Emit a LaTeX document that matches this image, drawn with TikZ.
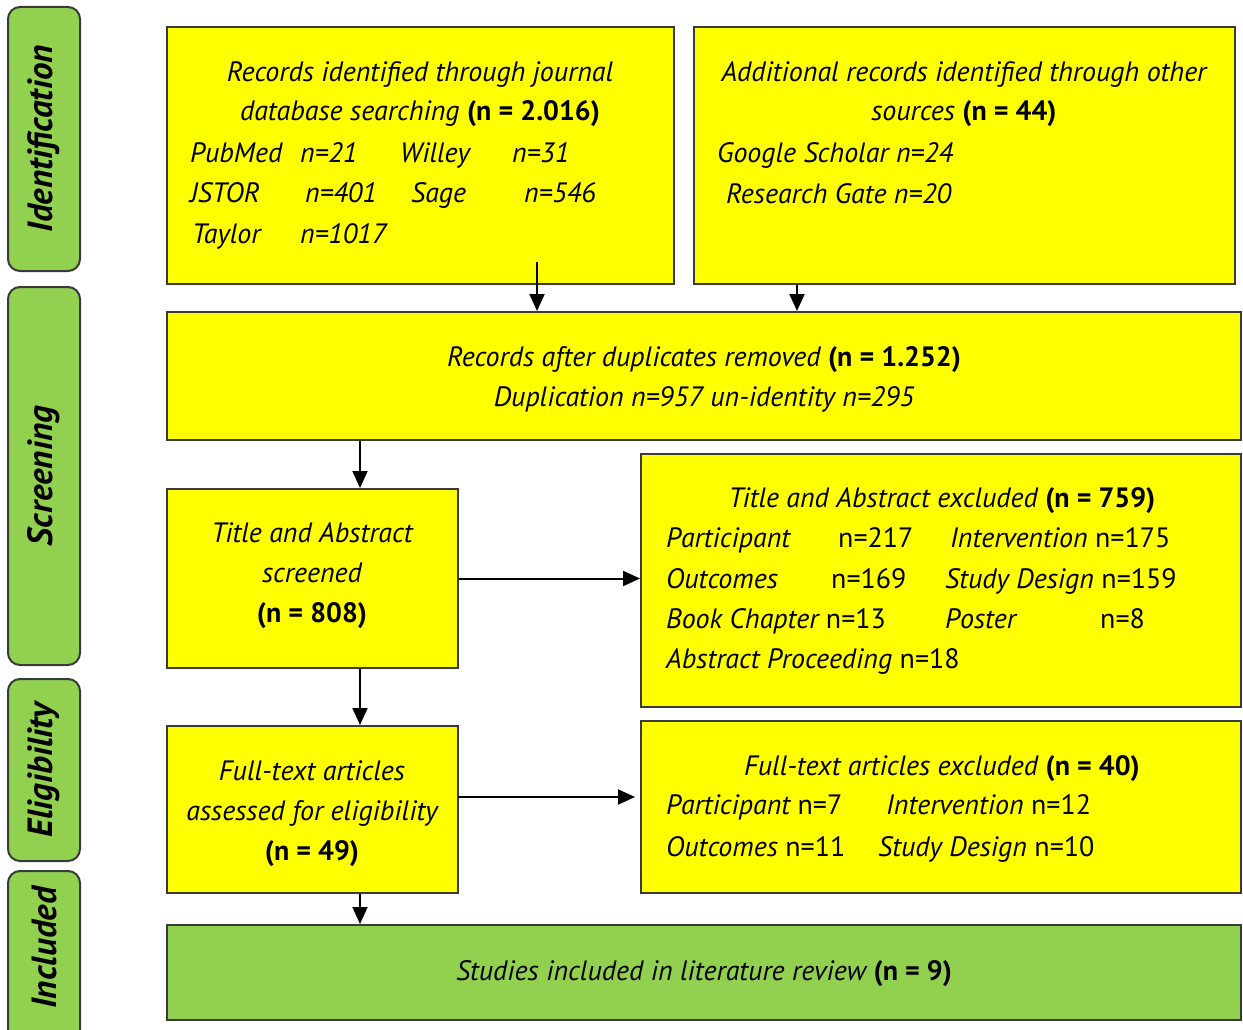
\documentclass[tikz,border=0pt]{standalone}
\usepackage{fontspec}
\setmainfont{PT Sans}
\usetikzlibrary{arrows.meta}
\definecolor{boxyellow}{HTML}{FFFF00}
\definecolor{boxgreen}{HTML}{92D050}
\definecolor{edgegray}{HTML}{3A3A3A}
\tikzset{
  flowbox/.style={draw=edgegray, line width=2pt, fill=boxyellow, inner sep=0pt},
  greenbox/.style={draw=edgegray, line width=2pt, fill=boxgreen, inner sep=0pt},
  sidebar/.style={draw=edgegray, line width=2pt, fill=boxgreen, rounded corners=12pt, inner sep=0pt, minimum width=72pt},
  sidelabel/.style={rotate=90, font=\fontsize{35}{38}\selectfont\bfseries\itshape, inner sep=0pt},
  txt/.style={font=\fontsize{28}{30}\selectfont\itshape, inner sep=0pt},
  lt/.style={txt, anchor=mid west},
  ct/.style={txt, anchor=mid},
  arr/.style={line width=2pt, -{Triangle[length=17pt,width=15pt]}}
}
\newcommand{\bn}[1]{\textbf{\upshape #1}}
\begin{document}
\begin{tikzpicture}[x=1pt,y=-1pt]
\useasboundingbox (0,0) rectangle (1243,1030);
\clip (0,0) rectangle (1243,1030);
\fill[white] (0,0) rectangle (1243,1030);

% side bars
\node[sidebar, minimum height=264pt] (s1) at (44,139) {};
\node[sidebar, minimum height=378pt] (s2) at (44,476) {};
\node[sidebar, minimum height=182pt] (s3) at (44,770) {};
\node[sidebar, minimum height=180pt] (s4) at (44,961) {};
\node[sidelabel] (l1) at (s1.center) {Identification};
\node[sidelabel] (l2) at (s2.center) {Screening};
\node[sidelabel] (l3) at (s3.center) {Eligibility};
\node[sidelabel] (l4) at (44,948) {Included};

% boxes
\node[flowbox, minimum width=507pt, minimum height=257pt] (b1) at (420.5,155.5) {};
\node[flowbox, minimum width=541pt, minimum height=257pt] (b2) at (964.5,155.5) {};
\node[flowbox, minimum width=1074pt, minimum height=128pt] (b3) at (704,376) {};
\node[flowbox, minimum width=291pt, minimum height=179pt] (b4) at (312.5,578.5) {};
\node[flowbox, minimum width=600pt, minimum height=253pt] (b5) at (941,580.5) {};
\node[flowbox, minimum width=291pt, minimum height=167pt] (b6) at (312.5,809.5) {};
\node[flowbox, minimum width=600pt, minimum height=172pt] (b7) at (941,807) {};
\node[greenbox, minimum width=1074pt, minimum height=95pt] (b8) at (704,972.5) {};

% box 1 text
\node[ct] (t11) at (420,79) {Records identified through journal};
\node[ct] (t12) at (420,118) {database searching \bn{(n = 2.016)}};
\node[lt] (t13) at (190,160) {PubMed};
\node[lt] (t14) at (300,160) {n=21};
\node[lt] (t15) at (400,160) {Willey};
\node[lt] (t16) at (512,160) {n=31};
\node[lt] (t17) at (190,200) {JSTOR};
\node[lt] (t18) at (305,200) {n=401};
\node[lt] (t19) at (411,200) {Sage};
\node[lt] (t110) at (524,200) {n=546};
\node[lt] (t111) at (192,241) {Taylor};
\node[lt] (t112) at (300,241) {n=1017};

% box 2 text
\node[ct] (t21) at (964,79) {Additional records identified through other};
\node[ct] (t22) at (964,118) {sources \bn{(n = 44)}};
\node[lt] (t23) at (717,160) {Google Scholar n=24};
\node[lt] (t24) at (726,201) {Research Gate n=20};

% box 3 text
\node[ct] (t31) at (704,364) {Records after duplicates removed \bn{(n = 1.252)}};
\node[ct] (t32) at (704,404) {Duplication n=957 un-identity n=295};

% box 4 text
\node[ct] (t41) at (312,540) {Title and Abstract};
\node[ct] (t42) at (312,580) {screened};
\node[ct] (t43) at (312,620) {\bn{(n = 808)}};

% box 5 text
\node[ct] (t51) at (942,505) {Title and Abstract excluded \bn{(n = 759)}};
\node[lt] (t52) at (666,545) {Participant};
\node[lt] (t53) at (838,545) {\upshape n=217};
\node[lt] (t54) at (950,545) {Intervention \upshape n=175};
\node[lt] (t55) at (666,586) {Outcomes};
\node[lt] (t56) at (831,586) {\upshape n=169};
\node[lt] (t57) at (945,586) {Study Design \upshape n=159};
\node[lt] (t58) at (666,626) {Book Chapter \upshape n=13};
\node[lt] (t59) at (945,626) {Poster};
\node[lt] (t510) at (1100,626) {\upshape n=8};
\node[lt] (t511) at (666,666) {Abstract Proceeding \upshape n=18};

% box 6 text
\node[ct] (t61) at (312,778) {Full-text articles};
\node[ct] (t62) at (312,818) {assessed for eligibility};
\node[ct] (t63) at (312,858) {\bn{(n = 49)}};

% box 7 text
\node[ct] (t71) at (942,773) {Full-text articles excluded \bn{(n = 40)}};
\node[lt] (t72) at (666,812) {Participant \upshape n=7};
\node[lt] (t73) at (886,812) {Intervention \upshape n=12};
\node[lt] (t74) at (666,854) {Outcomes \upshape n=11};
\node[lt] (t75) at (878,854) {Study Design \upshape n=10};

% box 8 text
\node[ct] (t81) at (704,978) {Studies included in literature review \bn{(n = 9)}};

% connectors
\coordinate (a1) at (537,262);
\coordinate (a2) at (797,0);
\coordinate (cx) at (360,0);
\coordinate (e6) at (458,797);
\draw[arr] (a1) -- (a1 |- b3.north);
\draw[arr] (b2.south -| a2) -- (b3.north -| a2);
\draw[arr] (b3.south -| cx) -- (b4.north -| cx);
\draw[arr] (b4.east) -- (b5.west |- b4.east);
\draw[arr] (b4.south -| cx) -- (b6.north -| cx);
\draw[arr] (e6) -- ([xshift=-5pt]b7.west |- e6);
\draw[arr] (b6.south -| cx) -- (b8.north -| cx);
\end{tikzpicture}
\end{document}
